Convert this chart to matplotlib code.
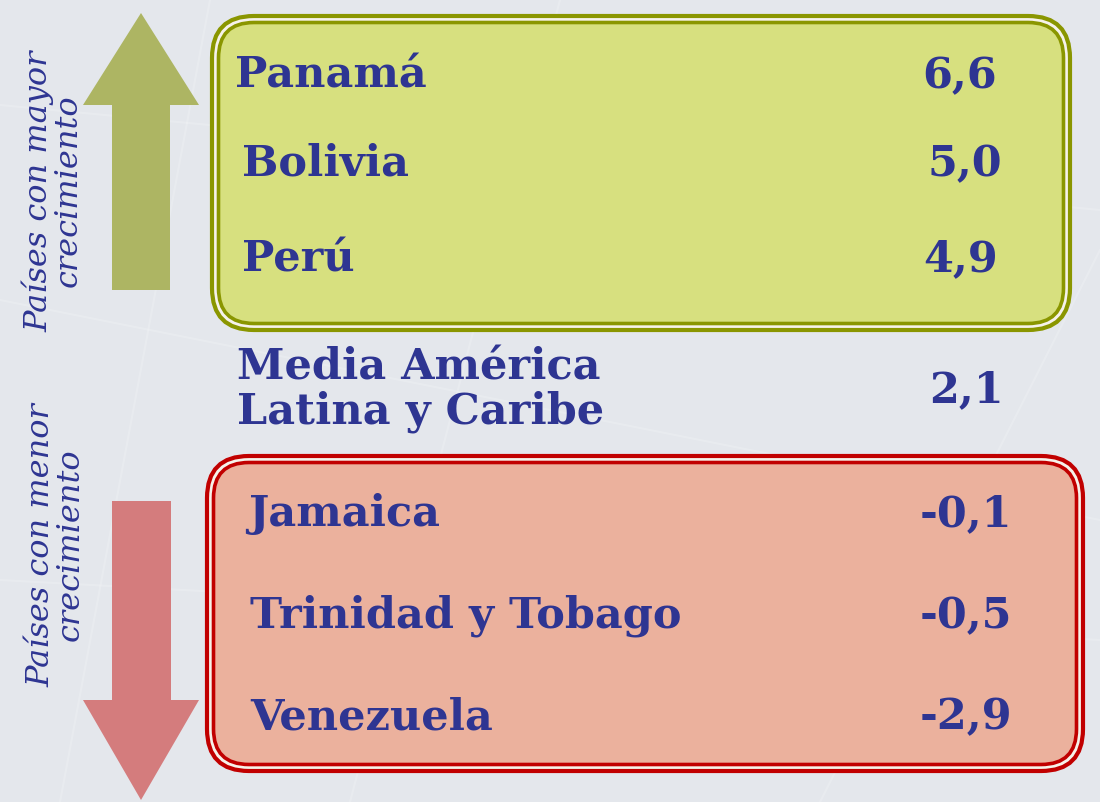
import matplotlib
matplotlib.use("Agg")
import matplotlib.pyplot as plt
from matplotlib.patches import FancyBboxPatch, Polygon
from matplotlib.lines import Line2D

# ---- data ----
top_countries = ["Panamá", "Bolivia", "Perú"]
top_values = ["6,6", "5,0", "4,9"]
mean_label = "Media América\nLatina y Caribe"
mean_value = "2,1"
bottom_countries = ["Jamaica", "Trinidad y Tobago", "Venezuela"]
bottom_values = ["-0,1", "-0,5", "-2,9"]
top_caption = "Países con mayor\ncrecimiento"
bottom_caption = "Países con menor\ncrecimiento"

# ---- style ----
TXT = "#2e3592"
BG = "#e4e7ec"
GREEN_FILL = "#d7e07f"
GREEN_EDGE = "#8a9600"
RED_FILL = "#ebb19d"
RED_EDGE = "#c10000"
ARROW_G = "#adb563"
ARROW_R = "#d47c7d"
FONT = "DejaVu Serif"
FS = 31

W, H = 1100, 802
fig = plt.figure(figsize=(W / 100, H / 100), dpi=100)
fig.patch.set_facecolor(BG)
ax = fig.add_axes([0, 0, 1, 1])
ax.set_xlim(0, W)
ax.set_ylim(H, 0)
ax.axis("off")
ax.set_facecolor(BG)

# faint background streaks
for (x0, y0, x1, y1) in [(0, 105, 1100, 210), (0, 300, 1100, 520), (0, 580, 1100, 640),
                         (60, 802, 210, 0), (560, 0, 350, 802), (1100, 250, 820, 802)]:
    ax.add_line(Line2D([x0, x1], [y0, y1], color="white", lw=1.5, alpha=0.18, zorder=0))


def double_box(x0, y0, x1, y1, fill, edge, r):
    outer = FancyBboxPatch((x0, y0), x1 - x0, y1 - y0,
                           boxstyle=f"round,pad=0,rounding_size={r}",
                           facecolor="#f6f2ea", edgecolor=edge, lw=3.0, zorder=2)
    ax.add_patch(outer)
    d = 6.5
    inner = FancyBboxPatch((x0 + d, y0 + d), x1 - x0 - 2 * d, y1 - y0 - 2 * d,
                           boxstyle=f"round,pad=0,rounding_size={r - d}",
                           facecolor=fill, edgecolor=edge, lw=2.6, zorder=3)
    ax.add_patch(inner)


double_box(212, 16, 1070, 330, GREEN_FILL, GREEN_EDGE, 42)
double_box(207, 456, 1083, 771, RED_FILL, RED_EDGE, 42)

# arrows
ax.add_patch(Polygon([(112, 290), (112, 105), (83, 105), (141, 13), (199, 105),
                      (170, 105), (170, 290)], closed=True, facecolor=ARROW_G,
                     edgecolor="none", zorder=2))
ax.add_patch(Polygon([(112, 501), (112, 700), (83, 700), (141, 800), (199, 700),
                      (171, 700), (171, 501)], closed=True, facecolor=ARROW_R,
                     edgecolor="none", zorder=2))

# rotated captions
ax.text(53, 191, top_caption, rotation=90, ha="center", va="center", color=TXT,
        fontsize=23, style="italic", family=FONT, linespacing=0.92, zorder=5)
ax.text(56, 545, bottom_caption, rotation=90, ha="center", va="center", color=TXT,
        fontsize=23, style="italic", family=FONT, linespacing=0.92, zorder=5)

# rows
top_y = [76, 164, 259]
top_x = [235, 242, 242]
val_right_top = [997, 1002, 998]
for c, v, y, x, xr in zip(top_countries, top_values, top_y, top_x, val_right_top):
    ax.text(x, y, c, ha="left", va="center", color=TXT, fontsize=FS,
            fontweight="bold", family=FONT, zorder=5)
    ax.text(xr, y, v, ha="right", va="center", color=TXT, fontsize=FS,
            fontweight="bold", family=FONT, zorder=5)

ax.text(237, 390, mean_label, ha="left", va="center", color=TXT, fontsize=FS,
        fontweight="bold", family=FONT, linespacing=1.05, zorder=5)
ax.text(1004, 390, mean_value, ha="right", va="center", color=TXT, fontsize=FS,
        fontweight="bold", family=FONT, zorder=5)

bot_y = [514, 616, 717]
bot_x = [248, 250, 250]
for c, v, y, x in zip(bottom_countries, bottom_values, bot_y, bot_x):
    ax.text(x, y, c, ha="left", va="center", color=TXT, fontsize=FS,
            fontweight="bold", family=FONT, zorder=5)
    ax.text(1012, y, v, ha="right", va="center", color=TXT, fontsize=FS,
            fontweight="bold", family=FONT, zorder=5)

fig.savefig("out.png", dpi=100, facecolor=BG)
